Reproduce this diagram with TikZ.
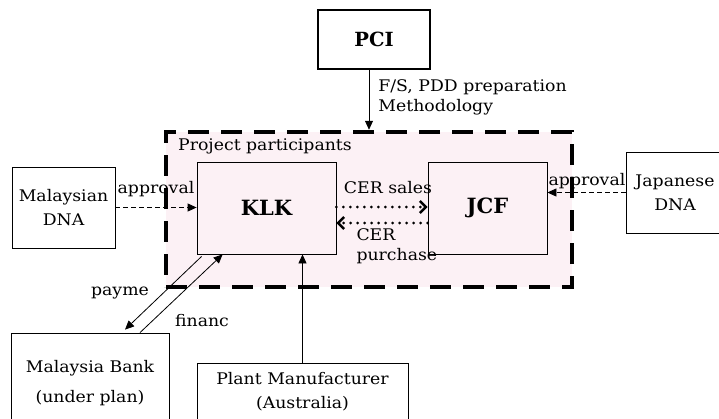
\documentclass[tikz,border=0pt]{standalone}
\usepackage{fontspec}
\setmainfont[FakeStretch=1.08]{DejaVu Serif}
\newfontfamily\partyfont{DejaVu Serif}
\usepackage{tikz}
\usetikzlibrary{
arrows.meta,
positioning
}
\definecolor{cdmpink}{RGB}{252,241,245}

\tikzset{
  entity/.style={draw, line width=0.8pt, align=center, inner sep=2pt},
  party/.style={entity, fill=cdmpink, font=\fontsize{21}{24}\partyfont\bfseries},
  flow/.style={-{Triangle[length=9pt,width=8pt]}, line width=0.8pt},
  approve/.style={flow, dash pattern=on 5pt off 3pt},
  trade/.style={line width=3pt, line cap=round, dash pattern=on 0pt off 7pt,
    -{Straight Barb[length=6pt,width=12pt,line width=2.5pt]}},
  lbl/.style={inner sep=2pt}
}

\begin{document}
\begin{tikzpicture}[x=1pt, y=-1pt, font=\fontsize{16}{24}\selectfont]
  \useasboundingbox (0,0) rectangle (719,418);
  % Project participants
  \node[draw, fill=cdmpink, line width=4.5pt, dash pattern=on 21pt off 12pt,
    minimum width=406pt, minimum height=155pt] (pp) at (369,209.5) {};
  \node[lbl, anchor=base west] (pptitle) at (176,150) {Project participants};
  \node[party, minimum width=139pt, minimum height=92pt] (klk) at (266.5,208) {KLK};
  \node[party, minimum width=119pt, minimum height=92pt] (jcf) at (487.5,208) {JCF};
  % Outside parties
  \node[party, fill=white, line width=1.8pt, minimum width=112pt, minimum height=59pt,
    font=\fontsize{19.5}{22}\partyfont\bfseries] (pci) at (374,39.5) {PCI};
  \node[entity, minimum width=103pt, minimum height=81pt] (mdna) at (63.5,207.5) {Malaysian\\DNA};
  \node[entity, minimum width=98pt, minimum height=81pt] (jdna) at (675,192.5) {Japanese\\DNA};
  \node[entity, minimum width=158pt, minimum height=100pt] (bank) at (90,383) {Malaysia Bank\\[6pt](under plan)};
  \node[entity, minimum width=211pt, minimum height=58pt] (plant) at (302.5,392) {Plant Manufacturer\\(Australia)};
  % Flows
  \draw[flow] (pci.south -| pp.north) -- (pp.north)
    node[lbl, anchor=north west, align=left, font=\fontsize{16}{20}\selectfont]
      (prep) at (376,77) {F/S, PDD preparation\\Methodology};
  \draw[approve] (mdna.east) -- (mdna.east -| klk.west)
    node[lbl, anchor=base] (mappr) at (156,193) {approval};
  \draw[approve] (jdna.west) -- (jdna.west -| jcf.east)
    node[lbl, anchor=base] (jappr) at (587,185) {approval};
  \draw[trade] ([yshift=1pt]klk.east) -- ([yshift=1pt]jcf.west)
    node[lbl, anchor=base] (sales) at (388,193) {CER sales};
  \draw[trade] ([yshift=-15pt]jcf.west) -- ([yshift=-15pt]klk.east)
    node[lbl, anchor=north west, align=left, font=\fontsize{16}{20}\selectfont]
      (purchase) at (353,225) {CER\\purchase};
  \draw[flow] (plant.north) -- (plant.north |- klk.south);
  \draw[flow] ([xshift=5pt,yshift=-2pt]klk.south west) -- ([xshift=35pt,yshift=3pt]bank.north)
    node[lbl, anchor=base] (pay) at (120,295) {payme};
  \draw[flow] ([xshift=50pt]bank.north) -- ([xshift=26pt]klk.south west)
    node[lbl, anchor=base] (fin) at (202,326) {financ};
\end{tikzpicture}
\end{document}
